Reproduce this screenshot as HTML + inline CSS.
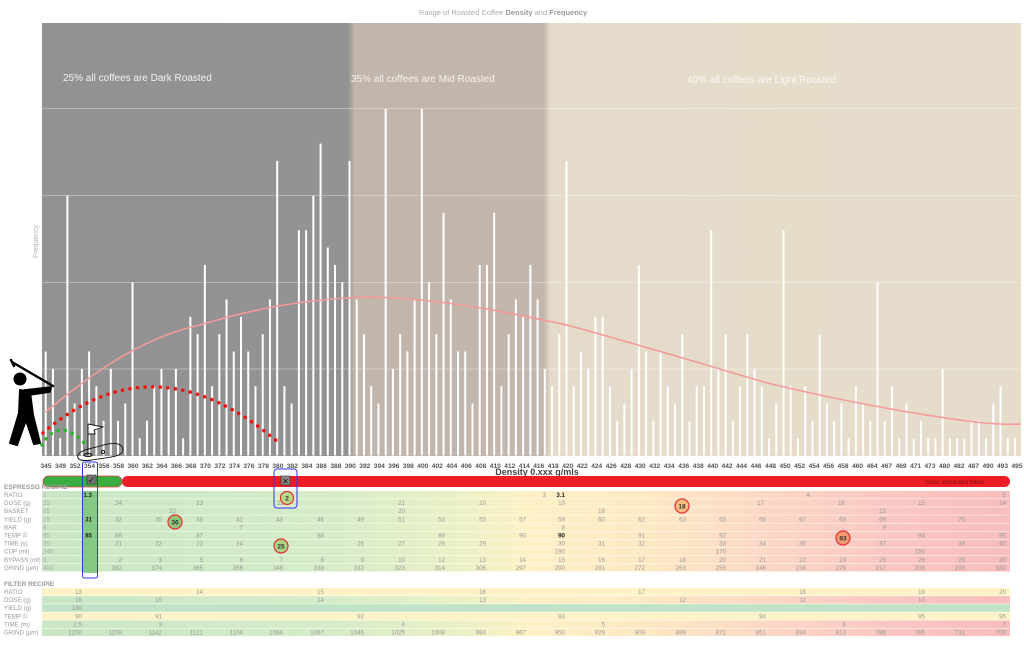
<!DOCTYPE html>
<html><head><meta charset="utf-8"><style>
body{margin:0;background:#fff;}
svg{display:block;font-family:"Liberation Sans",sans-serif;}
</style></head><body>
<svg id="s" width="1024" height="645" viewBox="0 0 1024 645" xmlns="http://www.w3.org/2000/svg">
<defs>
<linearGradient id="bg" x1="42" x2="1021" y1="0" y2="0" gradientUnits="userSpaceOnUse">
<stop offset="0" stop-color="#929292"/>
<stop offset="0.3125" stop-color="#939393"/>
<stop offset="0.3195" stop-color="#c2b5ab"/>
<stop offset="0.5125" stop-color="#c3b6ac"/>
<stop offset="0.5195" stop-color="#e5dbca"/>
<stop offset="1" stop-color="#e6dccb"/>
</linearGradient>
<linearGradient id="tg" x1="42" x2="1010" y1="0" y2="0" gradientUnits="userSpaceOnUse">
<stop offset="0" stop-color="#c9e6c5"/>
<stop offset="0.3" stop-color="#d6ecc8"/>
<stop offset="0.42" stop-color="#e9f0c6"/>
<stop offset="0.5" stop-color="#fdf1c5"/>
<stop offset="0.62" stop-color="#fde9c4"/>
<stop offset="0.75" stop-color="#fcd7c4"/>
<stop offset="0.88" stop-color="#f9c6c2"/>
<stop offset="1" stop-color="#f8bdbd"/>
</linearGradient>
</defs>
<text x="503" y="15" font-size="7.5" fill="#aaa" text-anchor="middle">Range of Roasted Coffee <tspan font-weight="bold" fill="#999">Density</tspan> and <tspan font-weight="bold" fill="#999">Frequency</tspan></text>
<rect x="42" y="23" width="979" height="433" fill="url(#bg)"/>
<g stroke="#fff" stroke-opacity="0.45" stroke-width="0.8">
<line x1="42" x2="1021" y1="108.5" y2="108.5"/><line x1="42" x2="1021" y1="195.5" y2="195.5"/>
<line x1="42" x2="1021" y1="282.5" y2="282.5"/><line x1="42" x2="1021" y1="369" y2="369"/>
</g>
<text x="63" y="81" font-size="10" fill="#f2f2f2">25% all coffees are Dark Roasted</text>
<text x="351" y="82" font-size="10" fill="#f5f2ef">35% all coffees are Mid Roasted</text>
<text x="687" y="83" font-size="10" fill="#fbf8f3">40% all coffees are Light Roasted</text>
<text transform="translate(38,258) rotate(-90)" font-size="7" fill="#b0b0b0">Frequency</text>
<g id="bars" fill="#fff"></g>
<path d="M45.7,412 C90,375 140,338 200,325 C250,310 300,299 370,297 C450,299 520,315 567,325 C640,345 700,363 767,383 C830,398 900,412 967,421 C990,424 1005,425 1021,424" fill="none" stroke="#f49a98" stroke-width="1.6"/>
<path d="M43,433 Q155,336 279,443" fill="none" stroke="#f01010" stroke-width="3.6" stroke-linecap="round" stroke-dasharray="0 7.6"/>
<path d="M42,445 Q59.5,414.5 87,446" fill="none" stroke="#2db52d" stroke-width="3.6" stroke-linecap="round" stroke-dasharray="0 7.4"/>
<!-- golfer -->
<g fill="#000" stroke="#000" stroke-linecap="round" stroke-linejoin="round">
<circle cx="20" cy="379" r="6.5" stroke="none"/>
<line x1="12" y1="362" x2="53" y2="386" stroke-width="2.4"/>
<line x1="11" y1="360" x2="14" y2="366" stroke-width="2.4"/>
<path d="M24,390 L51,387 L50,392 L30,395 Z" stroke-width="1.5"/>
<path d="M20,390 L30,392 L33,415 L40,443 L34,444 L26,420 L17,445 L10,443 L19,413 Z" stroke-width="2"/>
</g>
<!-- flag -->
<g fill="none" stroke="#111" stroke-width="0.9">
<line x1="88" y1="424" x2="88" y2="455"/>
<path d="M88,424 L103,427 L94,430 L95,434 L88,434 Z" fill="#fff"/>
<path d="M78,458 C75,450 95,448 100,446 C110,443 122,441 123,450 C123,458 100,458 92,460 C85,461 80,461 78,458 Z"/>
<ellipse cx="88" cy="455" rx="4" ry="1.5"/>
<circle cx="103" cy="452" r="1.6"/>
</g>
<g id="xl" font-size="6.6" font-weight="bold" fill="#555" text-anchor="middle"></g>
<text x="537" y="475" font-size="9" font-weight="bold" fill="#444" text-anchor="middle">Density 0.xxx g/mls</text>
<!-- extraction bar -->
<rect x="122" y="476" width="888" height="11" rx="5.5" fill="#ee1c24"/>
<rect x="43" y="476" width="79" height="11" rx="5.5" fill="#37ae3f" stroke="#e24444" stroke-width="0.8"/>
<text x="955" y="484" font-size="6.5" fill="#7a1010" text-anchor="middle">Over extracted bitter</text>
<rect x="87" y="475" width="9" height="9" fill="#777" stroke="#333" stroke-width="0.6"/>
<text x="91.5" y="483" font-size="9" fill="#111" text-anchor="middle">✓</text>
<rect x="281" y="476" width="9" height="9" fill="#888" stroke="#333" stroke-width="0.6"/>
<text x="285.5" y="484" font-size="8" fill="#111" text-anchor="middle">✕</text>
<!-- tables -->
<g id="tbl"></g>
<rect x="82.5" y="462" width="15" height="116" rx="2" fill="none" stroke="#3333ee" stroke-width="1"/>
<rect x="274" y="469" width="23" height="39" rx="3" fill="none" stroke="#3333ee" stroke-width="1"/>
<g stroke="#e53030" stroke-width="1.2" font-size="6.5" font-weight="bold" text-anchor="middle">
<circle cx="287" cy="498" r="6.5" fill="#b8d88c"/><text x="287" y="500.5" stroke="none" fill="#333">2</text>
<circle cx="175" cy="522" r="7" fill="#8fc77a"/><text x="175" y="524.5" stroke="none" fill="#333">36</text>
<circle cx="281" cy="546" r="7" fill="#a9d283"/><text x="281" y="548.5" stroke="none" fill="#333">25</text>
<circle cx="682" cy="506" r="7" fill="#f8c080"/><text x="682" y="508.5" stroke="none" fill="#333">18</text>
<circle cx="843" cy="538" r="7" fill="#f39a70"/><text x="843" y="540.5" stroke="none" fill="#333">93</text>
</g>
</svg>
<script>
var NS="http://www.w3.org/2000/svg";
function el(t,a,p,txt){var e=document.createElementNS(NS,t);for(var k in a)e.setAttribute(k,a[k]);if(txt!=null)e.textContent=txt;p.appendChild(e);return e;}
var H=[6,5,1,15,3,5,6,4,2,5,2,3,10,1,2,4,5,4,5,1,8,7,11,4,7,9,6,8,6,4,7,9,17,4,3,13,13,15,18,12,11,10,17,9,7,4,3,20,5,
7,6,9,20,10,7,14,9,6,6,3,11,11,14,4,7,9,8,11,9,5,4,7,17,4,6,5,8,8,4,2,3,5,11,6,2,6,4,3,7,2,4,
4,13,5,7,2,4,7,5,4,1,3,13,4,1,4,2,7,3,2,3,1,4,3,2,10,2,4,1,3,1,2,1,1,5,1,1,1,2,2,1,3,4,1,1];
var bars=document.getElementById('bars');
var n=H.length,step=(1015-45.7)/(n-1);
for(var i=0;i<n;i++){var h=H[i]*17.33;el('rect',{x:(45.7+i*step-1).toFixed(2),y:(455.5-h).toFixed(1),width:2,height:h.toFixed(1)},bars);}
var L="345 349 352 354 356 358 360 362 364 366 368 370 372 374 376 378 380 382 384 386 388 390 392 394 396 398 400 402 404 406 408 410 412 414 416 418 420 422 424 426 428 430 432 434 436 438 440 442 444 446 448 450 452 454 456 458 460 464 467 469 471 473 480 482 487 490 493 495".split(" ");
var xl=document.getElementById('xl');
for(var i=0;i<L.length;i++)el('text',{x:(46+i*(1017-46)/(L.length-1)).toFixed(1),y:468},xl,L[i]);
var T=document.getElementById('tbl');
function sec(title,y0,rows){
 el('text',{x:4,y:y0+4,'font-size':6.5,'font-weight':'bold',fill:'#999'},T,title);
 for(var r=0;r<rows.length;r++){
  var y=y0+6+r*8.1,R=rows[r];
  el('rect',{x:42,y:y,width:968,height:7.6,fill:R.f||'url(#tg)'},T);
  el('text',{x:4,y:y+6,'font-size':6.2,fill:'#999'},T,R.n);
  var v=R.v;
  for(var j=0;j<v.length;j+=2){
   var x=v[j],s=v[j+1],b=false;
   if(typeof s=='string'&&s[0]=='*'){s=s.slice(1);b=true;}
   if(x==43)el('text',{x:43,y:y+6,'font-size':6.2,fill:'#aaa'},T,s);
   else el('text',{x:x,y:y+6,'font-size':6.2,fill:b?'#222':'#999','font-weight':b?'bold':'normal','text-anchor':'end'},T,s);
  }
 }
}
// highlighted column
sec('ESPRESSO RECIPIE',485,[
{n:'RATIO',v:[43,'1',92,'*1.3',546,'3',565,'*3.1',810,'4',1006,'5']},
{n:'DOSE (g)',v:[43,'25',122,'24',203,'23',284,'22',405,'21',486,'20',565,'19',764,'17',845,'16',925,'15',1006,'14']},
{n:'BASKET',v:[43,'25',176,'22',405,'20',605,'18',886,'15']},
{n:'YIELD (g)',v:[43,'25',92,'*31',122,'32',162,'35',203,'38',243,'41',283,'43',324,'46',364,'49',405,'51',445,'53',486,'55',526,'57',565,'59',605,'60',645,'62',686,'63',726,'65',766,'66',806,'67',846,'68',886,'69',965,'70']},
{n:'BAR',v:[43,'6',243,'7',565,'8',886,'9']},
{n:'TEMP ©',v:[43,'85',92,'*85',122,'86',203,'87',324,'88',445,'89',526,'90',565,'*90',645,'91',726,'92',925,'94',1006,'95']},
{n:'TIME (s)',v:[43,'20',122,'21',162,'22',203,'23',243,'24',364,'26',405,'27',445,'28',486,'29',565,'30',605,'31',645,'32',726,'33',766,'34',806,'35',886,'37',965,'39',1006,'40']},
{n:'CUP (ml)',v:[43,'240',565,'190',726,'170',925,'150']},
{n:'BYPASS (ml)',v:[43,'0',122,'2',162,'3',203,'5',243,'6',283,'7',324,'8',364,'9',405,'10',445,'12',486,'13',526,'14',565,'15',605,'16',645,'17',686,'18',726,'20',766,'21',806,'22',846,'23',886,'25',925,'26',965,'29',1006,'30']},
{n:'GRIND (µm)',v:[43,'400',122,'382',162,'374',203,'365',243,'356',283,'348',324,'339',364,'332',405,'323',445,'314',486,'306',526,'297',565,'290',605,'281',645,'272',686,'263',726,'255',766,'246',806,'238',846,'229',886,'217',925,'208',965,'193',1006,'180']}
]);
el('rect',{x:83,y:491,width:14,height:82,fill:'#6cbf6c','fill-opacity':0.75},T);
T.appendChild(T.querySelectorAll('text')[0]);
var ts=T.querySelectorAll('text');for(var k=0;k<ts.length;k++){if(ts[k].getAttribute('font-weight')=='bold'&&+ts[k].getAttribute('x')<100)T.appendChild(ts[k]);}
sec('FILTER RECIPIE',582,[
{n:'RATIO',f:'#fdf3c6',v:[82,'13',203,'14',324,'15',486,'16',645,'17',806,'18',925,'19',1006,'20']},
{n:'DOSE (g)',v:[82,'16',162,'15',324,'14',486,'13',686,'12',806,'11',925,'10']},
{n:'YIELD (g)',f:'#bfe3c5',v:[82,'190']},
{n:'TEMP ©',f:'#fdf3c6',v:[82,'90',162,'91',364,'92',565,'93',766,'94',925,'95',1006,'95']},
{n:'TIME (m)',v:[82,'2.5',162,'3',405,'4',605,'5',846,'6',1006,'7']},
{n:'GRIND (µm)',v:[82,'1200',122,'1159',162,'1142',203,'1121',243,'1104',283,'1084',324,'1067',364,'1046',405,'1025',445,'1008',486,'984',526,'967',565,'950',605,'929',645,'909',686,'888',726,'871',766,'851',806,'834',846,'813',886,'786',925,'765',965,'731',1006,'700']}
]);
</script>
</body></html>
